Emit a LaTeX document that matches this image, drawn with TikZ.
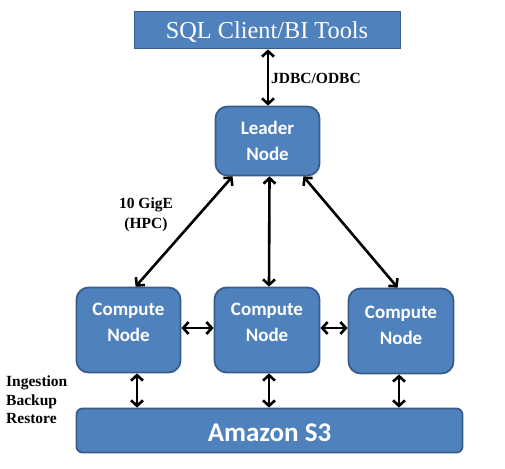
\documentclass[tikz,border=0pt]{standalone}
\usepackage{fontspec}
\setmainfont{Liberation Serif}
\newfontfamily\calfont{Carlito}
\usetikzlibrary{arrows.meta}
\definecolor{boxfill}{HTML}{4F81BD}
\definecolor{boxline}{HTML}{385D8A}
\tikzset{
  bluebox/.style={draw=boxline, fill=boxfill, line width=1.8pt, inner sep=0pt},
  roundbox/.style={bluebox, rounded corners=12pt},
  nodetext/.style={text=white, font=\calfont\bfseries\fontsize{19}{26}\selectfont, align=center, inner sep=0pt},
  lbl/.style={text=black, font=\bfseries\fontsize{15.5}{18.5}\selectfont, inner sep=0pt},
  arr/.style={draw=black, line width=2.6pt, {Straight Barb[length=5.5pt,width=12pt]}-{Straight Barb[length=5.5pt,width=12pt]}}
}
\begin{document}
\begin{tikzpicture}[x=1pt,y=-1pt]
\useasboundingbox[fill=white] (0,0) rectangle (505,468);
% boxes
\node[bluebox, minimum width=266pt, minimum height=37pt] (sql) at (267.5,30) {};
\node[text=white, font=\fontsize{24.3}{28}\selectfont, inner sep=0pt] (sqlt) at (267,32) {SQL Client/BI Tools};
\node[roundbox, minimum width=104pt, minimum height=69pt] (leader) at (267.5,141) {};
\node[nodetext] (leadert) at (267.5,141) {Leader\\Node};
\node[roundbox, minimum width=104pt, minimum height=85pt] (c1) at (128.5,330) {};
\node[nodetext] (c1t) at (128.5,322) {Compute\\Node};
\node[roundbox, minimum width=105pt, minimum height=85pt] (c2) at (267,330) {};
\node[nodetext] (c2t) at (267,322) {Compute\\Node};
\node[roundbox, minimum width=105pt, minimum height=85pt] (c3) at (401,331) {};
\node[nodetext] (c3t) at (401,325) {Compute\\Node};
\node[bluebox, rounded corners=6pt, minimum width=386pt, minimum height=44pt] (s3) at (269.5,430.5) {};
\node[text=white, font=\calfont\bfseries\fontsize{27}{30}\selectfont, inner sep=0pt] (s3t) at (269.5,433) {Amazon S3};
% labels
\node[lbl, anchor=west] (jdbc) at (271,78) {JDBC/ODBC};
\node[lbl, align=center, font=\bfseries\fontsize{15.5}{20}\selectfont] (gige) at (146,215) {10 GigE\\(HPC)};
\node[lbl, align=left, anchor=west] (ibr) at (6,400) {Ingestion\\Backup\\Restore};
% connectors
\draw[arr] ([xshift=0.5pt]sql.south) -- ([xshift=0.5pt]leader.north);
\draw[arr] ([xshift=18pt]leader.south west) -- ([xshift=60pt]c1.north west);
\draw[arr] ([xshift=2pt]leader.south) -- ([xshift=2pt]c2.north);
\draw[arr] ([xshift=-17pt]leader.south east) -- ([xshift=50pt]c3.north west);
\draw[arr] ([yshift=2pt]c1.east) -- ([yshift=2pt]c2.west);
\draw[arr] ([yshift=2pt]c2.east) -- ([yshift=2pt]c2.east -| c3.west);
\draw[arr] ([xshift=8.5pt]c1.south) -- ([xshift=8.5pt]c1.south |- s3.north);
\draw[arr] ([xshift=2pt]c2.south) -- ([xshift=2pt]c2.south |- s3.north);
\draw[arr] ([xshift=-2pt]c3.south) -- ([xshift=-2pt]c3.south |- s3.north);
\end{tikzpicture}
\end{document}
